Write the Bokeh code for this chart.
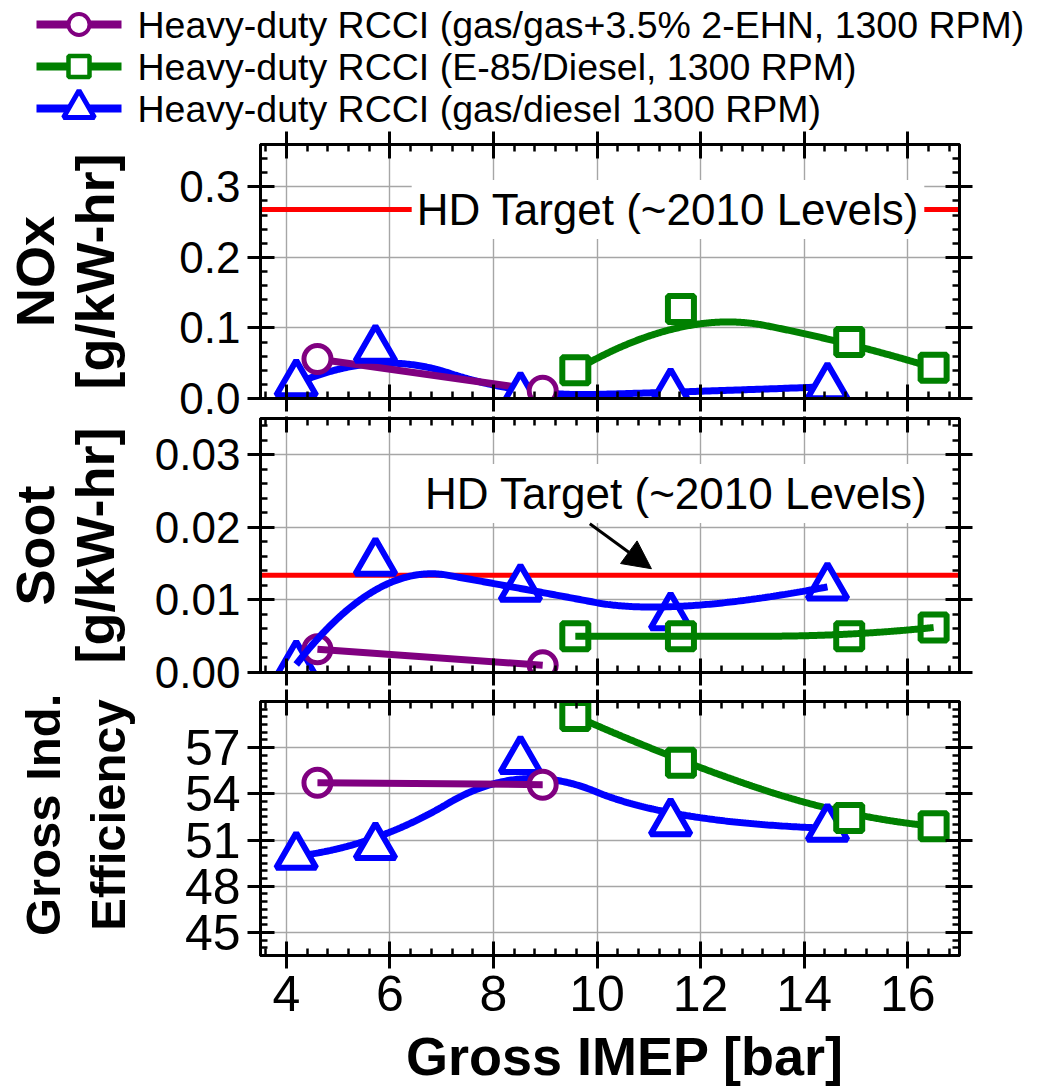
import numpy as np
from bokeh.plotting import figure
from bokeh.models import (Range1d, LinearAxis, FixedTicker, Span, Label, Arrow,
                          NormalHead, PrintfTickFormatter)
from bokeh.core.properties import value
from bokeh.layouts import column
from bokeh.embed import file_html
from bokeh.resources import INLINE

# ---------------- data ----------------
x_purple = [4.60, 8.95]
nox_purple = [0.056, 0.011]
soot_purple = [0.0032, 0.0010]
eff_purple = [54.72, 54.60]

x_green = [9.58, 11.62, 14.87, 16.50]
nox_green = [0.040, 0.127, 0.080, 0.0435]
soot_green = [0.0050, 0.0050, 0.0050, 0.0062]
eff_green = [59.05, 56.02, 52.44, 51.90]

x_blue = [4.19, 5.72, 8.52, 11.42, 14.45]
nox_blue = [0.021, 0.070, 0.003, 0.0085, 0.0166]
soot_blue = [0.0011, 0.0152, 0.0116, 0.0077, 0.0118]
eff_blue = [49.95, 50.58, 56.17, 52.13, 51.77]

NOX_TARGET = 0.268
SOOT_TARGET = 0.0134

labels = ["Heavy-duty RCCI (gas/gas+3.5% 2-EHN, 1300 RPM)",
          "Heavy-duty RCCI (E-85/Diesel, 1300 RPM)",
          "Heavy-duty RCCI (gas/diesel 1300 RPM)"]

x_major = [4, 6, 8, 10, 12, 14, 16]
nox_major = [0.0, 0.1, 0.2, 0.3]
soot_major = [0.00, 0.01, 0.02, 0.03]
eff_major = [45, 48, 51, 54, 57]

PURPLE, GREEN, BLUE = "#800080", "#008000", "#0000FF"
FONT = "Liberation Sans"
FRAME_W, FRAME_H = 699, 254
LEFT, RIGHT = 260, 80
NB = "\u00a0"


def bspline(xs, ys, k=2, n=300):
    P = np.column_stack([xs, ys]).astype(float)
    m = len(P)
    k = min(k, m - 1)
    if k < 2:
        return list(xs), list(ys)
    U = np.concatenate([np.zeros(k), np.linspace(0, 1, m - k + 1), np.ones(k)])
    out = []
    for t in np.linspace(0, 1, n):
        span = m - 1 if t >= 1 else int(np.searchsorted(U, t, side="right") - 1)
        d = [P[j + span - k].copy() for j in range(k + 1)]
        for r in range(1, k + 1):
            for j in range(k, r - 1, -1):
                i = j + span - k
                den = U[i + k + 1 - r] - U[i]
                a = 0.0 if den == 0 else (t - U[i]) / den
                d[j] = (1 - a) * d[j - 1] + a * d[j]
        out.append(d[k])
    out = np.array(out)
    return list(out[:, 0]), list(out[:, 1])


x_minor = list(np.round(np.arange(3.6, 17.001, 0.4), 3))


def style_axis(ax, ticker, show_labels, fmt=None, size="44px", tick_out=13, standoff=7):
    ax.ticker = ticker
    ax.axis_line_width = 3
    ax.axis_line_color = "black"
    ax.major_tick_line_width = 3
    ax.minor_tick_line_width = 2.5
    ax.major_tick_line_color = "black"
    ax.minor_tick_line_color = "black"
    ax.major_tick_in = 14
    ax.major_tick_out = tick_out
    ax.minor_tick_in = 7
    ax.minor_tick_out = 0
    if show_labels:
        ax.formatter = fmt
        ax.major_label_text_font = FONT
        ax.major_label_text_font_size = size
        ax.major_label_text_color = "black"
        ax.major_label_standoff = standoff
    else:
        ax.major_label_text_color = None
        ax.major_label_standoff = 0


def make_panel(yr, ymajor, yminor, yfmt, ysize, title, tsize, tlh, title_standoff,
               top, bottom, top_out, bottom_out, xlabels=False):
    p = figure(frame_width=FRAME_W, frame_height=FRAME_H,
               x_range=Range1d(3.5, 17), y_range=Range1d(*yr),
               x_axis_location=None, y_axis_location=None,
               output_backend="svg", toolbar_location=None,
               min_border_left=LEFT, min_border_right=RIGHT,
               min_border_top=top, min_border_bottom=bottom)
    p.outline_line_color = "black"
    p.outline_line_width = 3
    p.background_fill_color = "white"
    p.border_fill_color = "white"
    xt = FixedTicker(ticks=x_major, minor_ticks=x_minor)
    yt = FixedTicker(ticks=ymajor, minor_ticks=yminor)
    for g in p.xgrid:
        g.ticker = xt
    for g in p.ygrid:
        g.ticker = yt
    for g in list(p.xgrid) + list(p.ygrid):
        g.grid_line_color = "#a6a6a6"
        g.grid_line_width = 1.4

    left = LinearAxis()
    style_axis(left, yt, True, PrintfTickFormatter(format=yfmt), ysize)
    left.axis_label = title
    left.axis_label_text_font = FONT
    left.axis_label_text_font_style = "bold"
    left.axis_label_text_font_size = tsize
    left.axis_label_text_color = "black"
    left.axis_label_text_line_height = tlh
    left.axis_label_standoff = title_standoff
    p.add_layout(left, "left")

    right = LinearAxis()
    style_axis(right, yt, False)
    p.add_layout(right, "right")

    above = LinearAxis()
    style_axis(above, xt, False, tick_out=top_out)
    p.add_layout(above, "above")

    below = LinearAxis()
    if xlabels:
        style_axis(below, xt, True, PrintfTickFormatter(format="%d"), "50px",
                   tick_out=bottom_out, standoff=7)
        below.axis_label = NB + NB + "Gross IMEP [bar]"
        below.axis_label_text_font = FONT
        below.axis_label_text_font_style = "bold"
        below.axis_label_text_font_size = "54px"
        below.axis_label_text_color = "black"
        below.axis_label_standoff = 12
    else:
        style_axis(below, xt, False, tick_out=bottom_out)
    p.add_layout(below, "below")
    return p


def add_line(p, xs, ys, color):
    cx, cy = bspline(xs, ys)
    return p.line(cx, cy, line_color=color, line_width=7)


def add_markers(p, xs, ys, color, marker, size, mlw):
    return p.scatter(xs, ys, marker=marker, size=size, fill_color="white",
                     line_color=color, line_width=mlw)


# ---------------- legend strip (key only, in pixel units) ----------------
TOTAL_W = LEFT + FRAME_W + RIGHT
LEG_H = 131
p0 = figure(frame_width=TOTAL_W, frame_height=LEG_H,
            x_range=Range1d(0, TOTAL_W), y_range=Range1d(LEG_H, 0),
            x_axis_location=None, y_axis_location=None,
            output_backend="svg", toolbar_location=None, min_border=0)
p0.outline_line_color = None
p0.grid.visible = False
leg_rows = [24, 66, 108]
leg_style = [(PURPLE, "circle", 21, 4), (GREEN, "square", 21, 4.5), (BLUE, "triangle", 31, 5)]
for yrow, lab, (c, mk, sz, lw) in zip(leg_rows, labels, leg_style):
    p0.line([36, 121], [yrow, yrow], line_color=c, line_width=8)
    p0.scatter([78.5], [yrow], marker=mk, size=sz, fill_color="white",
               line_color=c, line_width=lw)
    p0.text([137], [yrow], text=[lab], text_font=value(FONT), text_font_size="37.5px",
            text_baseline="middle", text_align="left", text_color="black")

# ---------------- NOx ----------------
p1 = make_panel((0, 0.36), nox_major, list(np.round(np.arange(0, 0.3601, 0.02), 4)),
                "%.1f", "44px", "NOx\n[g/kW-hr]", "54px", 1.0, 51,
                13, 18, 13, 13)
p1.add_layout(Span(location=NOX_TARGET, dimension="width", line_color="red",
                   line_width=5, level="underlay"))
add_line(p1, x_blue, nox_blue, BLUE)
add_line(p1, x_green, nox_green, GREEN)
add_line(p1, x_purple, nox_purple, PURPLE)
add_markers(p1, x_blue, nox_blue, BLUE, "triangle", 40, 6)
add_markers(p1, x_green, nox_green, GREEN, "square", 26, 6)
add_markers(p1, x_purple, nox_purple, PURPLE, "circle", 27, 5)
p1.add_layout(Label(x=11.37, y=NOX_TARGET, text="HD Target (~2010 Levels)",
                    text_align="center", text_baseline="middle", text_font=FONT,
                    text_font_size="44px", text_color="black",
                    background_fill_color="white", padding=5))

# ---------------- Soot ----------------
p2 = make_panel((0, 0.035), soot_major, list(np.round(np.arange(0, 0.03501, 0.002), 4)),
                "%.2f", "44px", "Soot\n[g/kW-hr]", "54px", 1.0, 27,
                2, 17, 2, 13)
p2.add_layout(Span(location=SOOT_TARGET, dimension="width", line_color="red",
                   line_width=5, level="underlay"))
add_markers(p2, x_blue, soot_blue, BLUE, "triangle", 40, 6)
add_markers(p2, x_green, soot_green, GREEN, "square", 26, 6)
add_markers(p2, x_purple, soot_purple, PURPLE, "circle", 27, 5)
add_line(p2, x_blue, soot_blue, BLUE)
add_line(p2, x_green, soot_green, GREEN)
add_line(p2, x_purple, soot_purple, PURPLE)
p2.add_layout(Label(x=11.53, y=0.02466, text="HD Target (~2010 Levels)",
                    text_align="center", text_baseline="middle", text_font=FONT,
                    text_font_size="44px", text_color="black",
                    background_fill_color="white", padding=5))
p2.add_layout(Arrow(x_start=9.86, y_start=0.0205, x_end=11.05, y_end=0.0143,
                    line_width=3, line_color="black",
                    end=NormalHead(size=28, fill_color="black", line_color="black",
                                   line_width=1)))

# ---------------- Efficiency ----------------
p3 = make_panel((43.5, 60), eff_major, list(np.round(np.arange(43.5, 60.01, 0.5), 2)),
                "%d", "50px", NB + NB + "Gross Ind.\n" + NB + NB + "Efficiency",
                "49px", 1.2, 47, 12, 0, 12, 13, xlabels=True)
add_line(p3, x_blue, eff_blue, BLUE)
add_line(p3, x_green, eff_green, GREEN)
add_markers(p3, x_blue, eff_blue, BLUE, "triangle", 40, 6)
add_markers(p3, x_green, eff_green, GREEN, "square", 26, 6)
add_markers(p3, x_purple, eff_purple, PURPLE, "circle", 27, 5)
add_line(p3, x_purple, eff_purple, PURPLE)

layout = column(p1, p2, p3)
open("out.html", "w").write(file_html([p0, layout], INLINE))
